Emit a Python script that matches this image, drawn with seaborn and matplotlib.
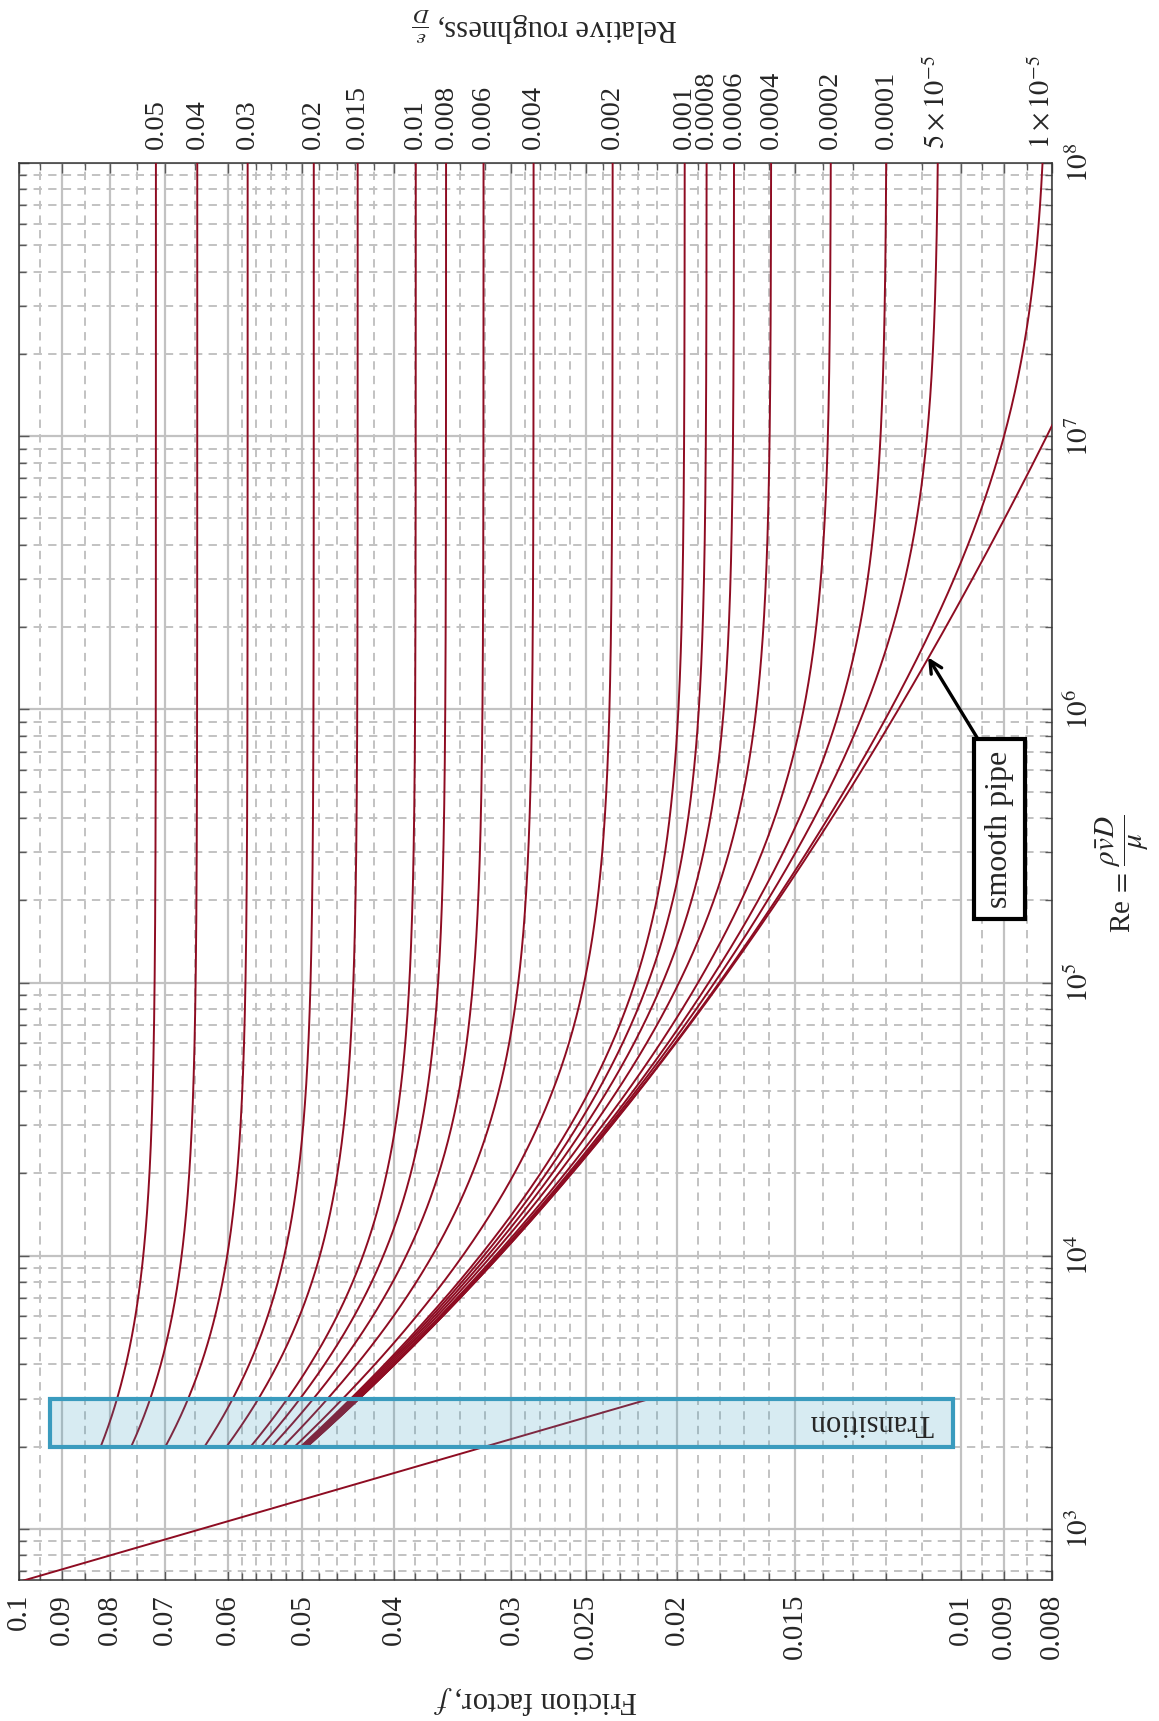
import numpy as np
import pandas as pd
import matplotlib
matplotlib.use('Agg')
import matplotlib.pyplot as plt
import seaborn as sns
from matplotlib.patches import Rectangle
from matplotlib.colors import to_rgba
from matplotlib.ticker import FixedLocator, NullFormatter, LogLocator

# relative roughness values of the curves (0 = smooth pipe)
roughness = [0.05, 0.04, 0.03, 0.02, 0.015, 0.01, 0.008, 0.006, 0.004, 0.002,
             0.001, 0.0008, 0.0006, 0.0004, 0.0002, 0.0001, 5e-5, 1e-5]
roughness_labels = ['0.05', '0.04', '0.03', '0.02', '0.015', '0.01', '0.008', '0.006',
                    '0.004', '0.002', '0.001', '0.0008', '0.0006', '0.0004', '0.0002',
                    '0.0001', r'$5\times10^{-5}$', r'$1\times10^{-5}$']
smooth = 0.0

# axis ticks
f_ticks = [0.1, 0.09, 0.08, 0.07, 0.06, 0.05, 0.04, 0.03, 0.025, 0.02, 0.015, 0.01, 0.009, 0.008]
f_tick_labels = ['0.1', '0.09', '0.08', '0.07', '0.06', '0.05', '0.04', '0.03', '0.025',
                 '0.02', '0.015', '0.01', '0.009', '0.008']
f_minor = [0.095, 0.085, 0.075, 0.065, 0.058, 0.056, 0.054, 0.052, 0.048, 0.046, 0.044,
           0.042, 0.038, 0.036, 0.034, 0.032, 0.029, 0.028, 0.027, 0.026, 0.024, 0.023,
           0.022, 0.021, 0.019, 0.018, 0.017, 0.016, 0.014, 0.013, 0.012, 0.011, 0.0095, 0.0085]
re_ticks = [1e3, 1e4, 1e5, 1e6, 1e7, 1e8]
re_tick_labels = [r'$10^{3}$', r'$10^{4}$', r'$10^{5}$', r'$10^{6}$', r'$10^{7}$', r'$10^{8}$']

# ranges
re_turbulent = (2000, 1e8)
re_laminar = (640, 3000)
transition_re = (2000, 3000)
transition_f = (0.0927, 0.0102)

red = '#8e0c22'
blue = '#3a9bbe'


def colebrook(eps, Re):
    f = np.full_like(Re, 0.02)
    for _ in range(60):
        inv = -2 * np.log10(eps / 3.7 + 2.51 / (Re * np.sqrt(f)))
        f = 1 / inv ** 2
    return f


Re = np.logspace(np.log10(re_turbulent[0]), np.log10(re_turbulent[1]), 500)
rows = []
for i, e in enumerate(roughness + [smooth]):
    rows.append(pd.DataFrame({'Re': Re, 'f': colebrook(e, Re), 'curve': i}))
df = pd.concat(rows, ignore_index=True)

Re_lam = np.array(re_laminar, dtype=float)
df_lam = pd.DataFrame({'Re': Re_lam, 'f': 64 / Re_lam})

sns.set_theme(style='white')
plt.rcParams['font.family'] = ['Liberation Serif', 'DejaVu Serif']
plt.rcParams['mathtext.fontset'] = 'stix'
plt.rcParams['lines.scale_dashes'] = False

fig = plt.figure(figsize=(11.59, 17.21), dpi=100)
ax = fig.add_axes([19 / 1159, 1 - 1580 / 1721, (1052 - 19) / 1159, (1580 - 163) / 1721])
ax.set_xscale('log')
ax.set_yscale('log')

sns.lineplot(data=df, x='f', y='Re', units='curve', estimator=None, sort=False,
             color=red, lw=1.4, ax=ax, zorder=3)
sns.lineplot(data=df_lam, x='f', y='Re', estimator=None, sort=False,
             color=red, lw=1.4, ax=ax, zorder=3)

ax.set_xlim(0.1, 0.008)
ax.set_ylim(650, 1e8)

ax.xaxis.set_major_locator(FixedLocator(f_ticks))
ax.set_xticklabels(f_tick_labels)
ax.xaxis.set_minor_locator(FixedLocator(f_minor))
ax.xaxis.set_minor_formatter(NullFormatter())
ax.yaxis.set_major_locator(FixedLocator(re_ticks))
ax.set_yticklabels(re_tick_labels)
ax.yaxis.set_minor_locator(LogLocator(base=10, subs=np.arange(2, 10), numticks=50))
ax.yaxis.set_minor_formatter(NullFormatter())

ax.grid(which='major', color='#c2c2c2', lw=1.6, ls='-', zorder=0)
ax.grid(which='minor', color='#c2c2c2', lw=1.4, ls=(0, (6, 4.5)), zorder=0)
ax.set_axisbelow(True)

ax.tick_params(which='both', direction='in', top=True, bottom=True, left=True, right=True,
               labelleft=False, labelright=True, color='0.35', width=1)
ax.tick_params(which='major', length=7)
ax.tick_params(which='minor', length=5)
ax.tick_params(axis='x', which='major', labelrotation=90, labelsize=21, pad=10)
ax.tick_params(axis='y', which='major', labelrotation=90, labelsize=21, pad=10)
for lab in ax.get_yticklabels():
    lab.set_va('center')
for s in ax.spines.values():
    s.set_color('0.2')
    s.set_linewidth(1.1)
ax.set_xlabel('')
ax.set_ylabel('')

# relative roughness labels above the top edge
f_end = [colebrook(e, np.array([re_turbulent[1]]))[0] for e in roughness]
for fx, lab in zip(f_end, roughness_labels):
    ax.annotate(lab, xy=(fx, 1), xycoords=('data', 'axes fraction'), xytext=(0, 10),
                textcoords='offset points', rotation=90, ha='center', va='bottom',
                fontsize=20.5, annotation_clip=False)

# transition box
ax.add_patch(Rectangle((transition_f[0], transition_re[0]),
                       transition_f[1] - transition_f[0], transition_re[1] - transition_re[0],
                       facecolor=to_rgba(blue, 0.2), edgecolor=blue, lw=3, zorder=5))
ax.text(0.0107, np.sqrt(transition_re[0] * transition_re[1]), 'Transition', rotation=180,
        ha='right', va='center', fontsize=22, zorder=6)

# smooth pipe annotation
ax.annotate('smooth pipe', xy=(0.01083, 1.55e6), xytext=(0.0091, 3.65e5), rotation=90,
            ha='center', va='center', fontsize=23, zorder=7,
            bbox=dict(boxstyle='square,pad=0.35', fc='white', ec='black', lw=3),
            arrowprops=dict(arrowstyle='->', lw=2.4, color='black', relpos=(0, 1),
                            shrinkA=0, shrinkB=0, mutation_scale=22))

# axis titles
fig.text(1122 / 1159, 1 - 874 / 1721, r'Re$\,=\,\dfrac{\rho\bar{v}D}{\mu}$', rotation=90,
         ha='center', va='center', fontsize=21)
fig.text(545 / 1159, 1 - 24 / 1721, r'Relative roughness, $\frac{\epsilon}{D}$', rotation=180,
         ha='center', va='center', fontsize=22)
fig.text(535 / 1159, 1 - 1700 / 1721, r'Friction factor, $f$', rotation=180,
         ha='center', va='center', fontsize=22)

fig.savefig('out.png', dpi=100)
